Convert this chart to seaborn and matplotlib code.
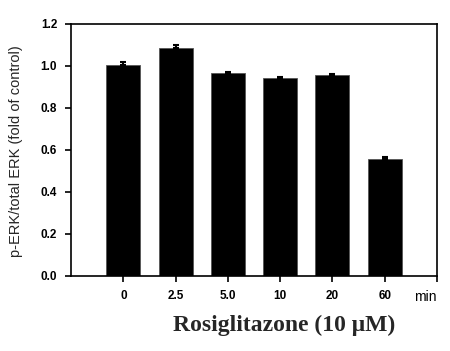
import pandas as pd
import seaborn as sns
import matplotlib.pyplot as plt

# data
times = ["0", "2.5", "5.0", "10", "20", "60"]
ratio = [1.005, 1.083, 0.965, 0.94, 0.955, 0.557]
sem = [0.015, 0.014, 0.007, 0.005, 0.006, 0.007]
yticks = [0.0, 0.2, 0.4, 0.6, 0.8, 1.0, 1.2]

df = pd.DataFrame({"time": times, "ratio": ratio})

sns.set_style("ticks")
plt.rcParams["font.family"] = ["Liberation Sans", "DejaVu Sans"]

fig = plt.figure(figsize=(4.5, 3.51), dpi=100)
ax = fig.add_axes([0.158, 0.214, 0.813, 0.718])

sns.barplot(data=df, x="time", y="ratio", color="black", width=0.65,
            errorbar=None, ax=ax, saturation=1, edgecolor="#555555", linewidth=0.6)
ax.errorbar(range(len(times)), ratio, yerr=[[0] * len(sem), sem], fmt="none",
            ecolor="black", elinewidth=1.5, capsize=2.5, capthick=1.5)

ax.set_xlim(-1, 6)
ax.set_ylim(0, 1.2)
ax.set_yticks(yticks)
ax.set_yticklabels([f"{v:.1f}" for v in yticks], fontweight="bold", fontsize=8.5)
ax.set_xticks(list(range(len(times))) + [6])
ax.set_xticklabels(times + ["min"], fontweight="bold", fontsize=8.5)
lab = ax.get_xticklabels()[-1]
lab.set_fontweight("normal")
lab.set_fontsize(10)
lab.set_horizontalalignment("right")

for s in ax.spines.values():
    s.set_visible(True)
    s.set_linewidth(1.2)
    s.set_color("black")
ax.tick_params(direction="out", length=4, width=1.2, colors="black", pad=6)

ax.set_xlabel("")
ax.set_ylabel("")
fig.text(0.035, 0.57, "p-ERK/total ERK (fold of control)", rotation=90,
         ha="center", va="center", fontsize=10.5)
fig.text(0.631, 0.074, "Rosiglitazone (10 \u03bcM)", ha="center", va="center",
         fontsize=17, fontweight="bold", family=["Liberation Serif", "DejaVu Serif"])

fig.savefig("out.png", dpi=100)
